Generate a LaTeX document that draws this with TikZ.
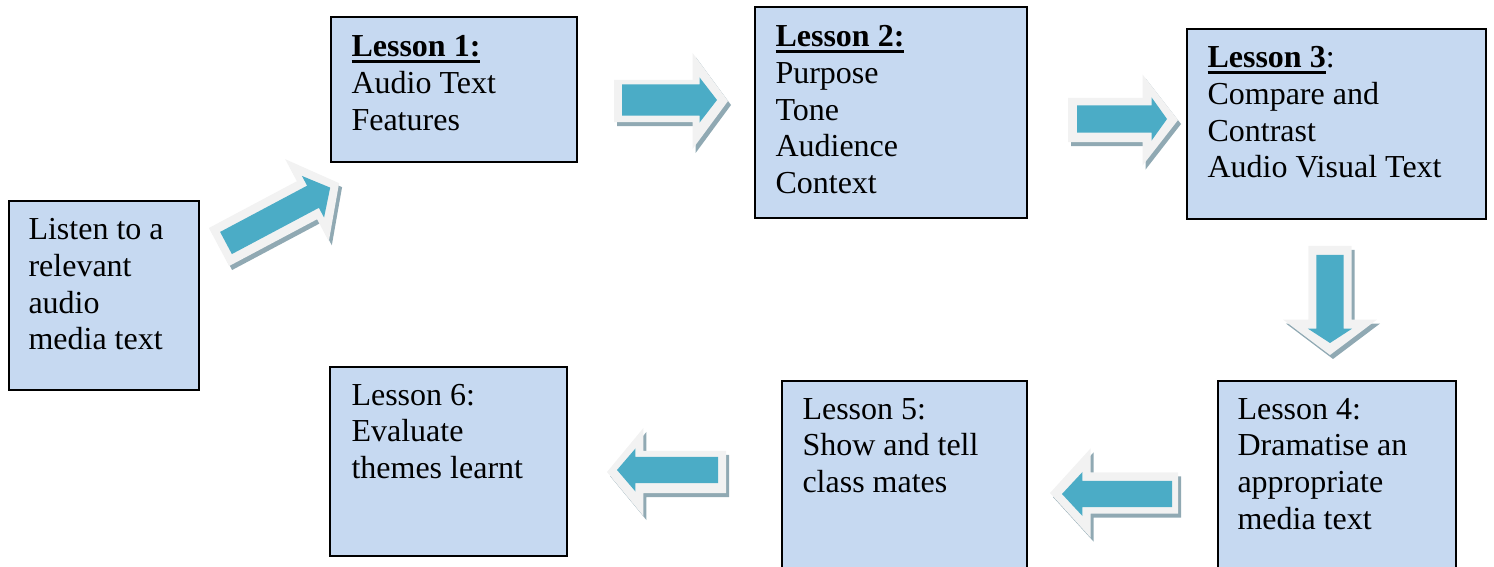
\documentclass[tikz,border=0pt]{standalone}
\usepackage{fontspec}
\setmainfont{Liberation Serif}
\usetikzlibrary{shapes.arrows,fit}
\definecolor{boxfill}{HTML}{C6D9F1}
\definecolor{arrowteal}{HTML}{4BACC6}
\definecolor{arrowrim}{HTML}{F2F2F2}
\definecolor{arrowshade}{HTML}{90A9B3}
% thick underline for the lesson headings
\newcommand\ulword[1]{\setbox0=\hbox{#1}\rlap{\rule[-2.1pt]{\wd0}{1.1pt}}\box0}
\begin{document}
\begin{tikzpicture}[x=0.375pt, y=-0.375pt,
  lessonbox/.style={rectangle, draw=black, line width=1pt, fill=boxfill, inner sep=0pt},
  lessontext/.style={anchor=base west, inner sep=0pt, font=\fontsize{12}{13.75}\selectfont},
  % block arrow: length, shaft width, head width (px), tip angle
  blockarrow/.style n args={4}{shape=single arrow, anchor=tail, outer sep=0pt,
    inner xsep=0pt, inner ysep={#2*0.1875pt}, minimum width=0pt,
    minimum height={#1*0.375pt}, single arrow head extend={(#3-#2)*0.1875pt},
    single arrow tip angle=#4},
  shade/.style={fill=arrowshade, draw=none},
  rim/.style={fill=arrowrim, draw=none},
  core/.style={fill=arrowteal, draw=none}]
\useasboundingbox (0,0) rectangle (1494,567);
\clip (0,0) rectangle (1494,567);

% drop shadows of the block arrows
\node[blockarrow={136}{42}{92}{104}, rotate=28, shade]   (s0) at (222,251) {};
\node[blockarrow={114}{41}{95}{107.2}, shade]            (s1) at (617,105) {};
\node[blockarrow={110}{43}{90}{104.2}, shade]            (s2) at (1071,124) {};
\node[blockarrow={109}{42}{93}{106}, rotate=-90, shade]  (s3) at (1333,250) {};
\node[blockarrow={128}{40}{88}{95.4}, rotate=180, shade] (s4) at (1181,497) {};
\node[blockarrow={119}{41}{87}{100.8}, rotate=180, shade](s5) at (729,476) {};

% light rims
\node[blockarrow={136}{42}{92}{104}, rotate=28, rim]   (r0) at (219,247) {};
\node[blockarrow={114}{41}{95}{107.2}, rim]            (r1) at (614,101) {};
\node[blockarrow={110}{43}{90}{104.2}, rim]            (r2) at (1068,120) {};
\node[blockarrow={109}{42}{93}{106}, rotate=-90, rim]  (r3) at (1330,246) {};
\node[blockarrow={128}{40}{88}{95.4}, rotate=180, rim] (r4) at (1178,493) {};
\node[blockarrow={119}{41}{87}{100.8}, rotate=180, rim](r5) at (726,472) {};

% teal arrow bodies
\node[blockarrow={118}{24}{46}{100.8}, rotate=28, core]  (a0) at (226,243) {};
\node[blockarrow={95}{30}{44}{104.6}, core]              (a1) at (622,100) {};
\node[blockarrow={90}{26}{42}{109}, core]                (a2) at (1077,119) {};
\node[blockarrow={88}{26}{43}{114}, rotate=-90, core]    (a3) at (1330,255) {};
\node[blockarrow={110}{25}{43}{94.2}, rotate=180, core]  (a4) at (1172,494) {};
\node[blockarrow={101}{25}{42}{98.8}, rotate=180, core]  (a5) at (718,470) {};

% lesson boxes
\node[lessonbox, fit={(9,201) (199,390)}]     (b0) {};
\node[lessonbox, fit={(331,17) (577,162)}]    (b1) {};
\node[lessonbox, fit={(755,7) (1027,218)}]    (b2) {};
\node[lessonbox, fit={(1187,29) (1486,219)}]  (b3) {};
\node[lessonbox, fit={(1218,381) (1456,620)}] (b4) {};
\node[lessonbox, fit={(782,381) (1027,620)}]  (b5) {};
\node[lessonbox, fit={(330,367) (567,556)}]   (b6) {};

% box texts
\node[lessontext] (t0) at (28,240)
  {\vtop{\hbox{Listen to a}\hbox{relevant}\hbox{audio}\hbox{media text}}};
\node[lessontext] (t1) at (351,57)
  {\vtop{\hbox{\ulword{\textbf{Lesson 1:}}}\hbox{Audio Text}\hbox{Features}}};
\node[lessontext] (t2) at (775,47)
  {\vtop{\hbox{\ulword{\textbf{Lesson 2:}}}\hbox{Purpose}\hbox{Tone}\hbox{Audience}\hbox{Context}}};
\node[lessontext] (t3) at (1207,68)
  {\vtop{\hbox{\ulword{\textbf{Lesson 3}}:}\hbox{Compare and}\hbox{Contrast}\hbox{Audio Visual Text}}};
\node[lessontext] (t4) at (1237,419)
  {\vtop{\hbox{Lesson 4:}\hbox{Dramatise an}\hbox{appropriate}\hbox{media text}}};
\node[lessontext] (t5) at (802,419)
  {\vtop{\hbox{Lesson 5:}\hbox{Show and tell}\hbox{class mates}}};
\node[lessontext] (t6) at (351,405)
  {\vtop{\hbox{Lesson 6:}\hbox{Evaluate}\hbox{themes learnt}}};
\end{tikzpicture}
\end{document}
